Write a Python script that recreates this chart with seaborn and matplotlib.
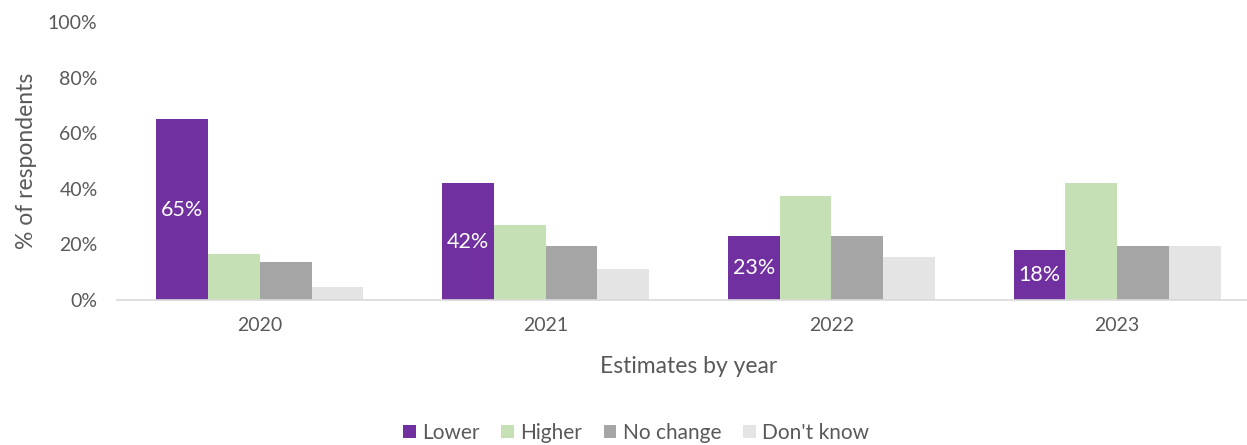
import matplotlib
matplotlib.use("Agg")
import matplotlib.pyplot as plt
import seaborn as sns
import pandas as pd
import numpy as np
from matplotlib.ticker import FixedLocator, PercentFormatter

years = ["2020", "2021", "2022", "2023"]
series = ["Lower", "Higher", "No change", "Don't know"]
lower = [65, 42, 23, 18]
higher = [16.5, 27, 37.5, 42]
no_change = [13.5, 19.5, 23, 19.5]
dont_know = [4.5, 11, 15.5, 19.5]
colors = ["#7030A0", "#C5E0B4", "#A5A5A5", "#E4E4E4"]

rows = []
for name, vals in zip(series, [lower, higher, no_change, dont_know]):
    for y, v in zip(years, vals):
        rows.append({"Year": y, "Series": name, "Value": v})
df = pd.DataFrame(rows)

sns.set_theme(style="white")
plt.rcParams['font.family'] = ['Lato', 'DejaVu Sans']
txt = "#595959"

W, H = 1247, 445
left_px, right_px = 117, 1260
fig = plt.figure(figsize=(W / 100, H / 100), dpi=100)
ax = fig.add_axes([left_px / W, 1 - 300 / H, (right_px - left_px) / W, (300 - 22) / H])

sns.barplot(data=df, x="Year", y="Value", hue="Series", order=years,
            hue_order=series, palette=colors, width=0.725, gap=0,
            saturation=1, ax=ax, legend=True, linewidth=0, edgecolor="none")

ax.set_ylim(0, 100)
ax.set_xlim(-0.5, 3.5)
ax.yaxis.set_major_locator(FixedLocator([0, 20, 40, 60, 80, 100]))
ax.yaxis.set_major_formatter(PercentFormatter(decimals=0))

for s in ["left", "right", "top"]:
    ax.spines[s].set_visible(False)
ax.spines["bottom"].set_color("#D9D9D9")
ax.spines["bottom"].set_linewidth(1.2)
ax.spines["bottom"].set_clip_on(False)

ax.tick_params(axis="y", length=0, labelsize=14, labelcolor=txt, pad=14)
ax.tick_params(axis="x", which="major", length=0, labelsize=14, labelcolor=txt, pad=12)
ax.set_xticks([-0.5, 0.5, 1.5, 2.5], minor=True)
ax.tick_params(axis="x", which="minor", length=6, color="#D9D9D9", width=1.2)

ax.set_xlabel("Estimates by year", fontsize=16.5, color=txt, labelpad=16)
ax.set_ylabel("% of respondents", fontsize=16.5, color=txt, labelpad=8)

ax.bar_label(ax.containers[0], labels=[f"{v:.0f}%" for v in lower],
             label_type="center", color="white", fontsize=15.5)

handles, labels = ax.get_legend_handles_labels()
leg = fig.legend(handles, labels, loc="center", bbox_to_anchor=(636 / W, 1 - 433 / H),
                 ncol=4, frameon=False, fontsize=15, labelcolor=txt,
                 handlelength=0.6, handleheight=0.6, handletextpad=0.3, columnspacing=1.05)
if ax.get_legend():
    ax.get_legend().remove()

fig.savefig("out.png", dpi=100)
